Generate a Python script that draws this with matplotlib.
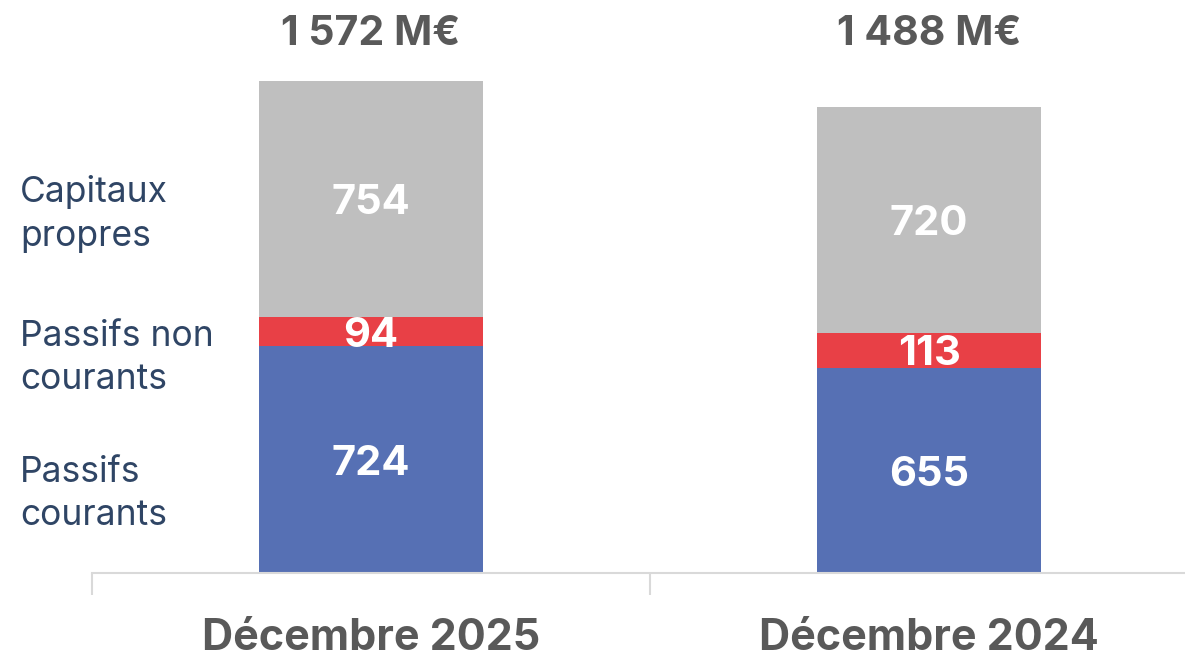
import matplotlib
matplotlib.use("Agg")
import matplotlib.pyplot as plt
import numpy as np

# données (M€)
periodes = ["Décembre 2025", "Décembre 2024"]
passifs_courants = [724, 655]
passifs_non_courants = [94, 113]
capitaux_propres = [754, 720]
totaux = ["1 572 M€", "1 488 M€"]
series_labels = ["Passifs\ncourants", "Passifs non\ncourants", "Capitaux\npropres"]

couleurs = ["#5670b4", "#e84046", "#bfbfbf"]
gris_txt = "#595959"
bleu_txt = "#2f4565"

plt.rcParams["font.family"] = ["Inter", "DejaVu Sans"]

W, H = 1185, 662
fig = plt.figure(figsize=(W / 100, H / 100), dpi=100)
# l'axe déborde à droite comme dans l'original
ax = fig.add_axes([92 / W, 1 - 573 / H, 1116 / W, 573 / H])

x = np.arange(len(periodes))
series = [passifs_courants, passifs_non_courants, capitaux_propres]
bottom = np.zeros(len(periodes))
for vals, c in zip(series, couleurs):
    vals = np.array(vals)
    ax.bar(x, vals, width=0.4, bottom=bottom, color=c, zorder=2)
    for xi, b, v in zip(x, bottom, vals):
        ax.annotate(str(v), (xi, b + v / 2), xytext=(0, -3), textcoords="offset points",
                    ha="center", va="center", color="white", fontsize=30,
                    fontweight="bold", zorder=3)
    bottom = bottom + vals

ax.set_xlim(-0.5, 1.5)
ax.set_ylim(0, 573 * 1572 / 492)

for s in ["top", "right", "left"]:
    ax.spines[s].set_visible(False)
ax.spines["bottom"].set_color("#d9d9d9")
ax.spines["bottom"].set_linewidth(1.5)
ax.set_yticks([])
ax.set_xticks([-0.5, 0.5, 1.5])
ax.set_xticklabels([])
ax.tick_params(axis="x", length=16, width=1.5, color="#d9d9d9", direction="out")

for xi, p in zip(x, periodes):
    fig.text((92 + 558 * (xi + 0.5)) / W, 1 - 639 / H, p, ha="center",
             va="center", fontsize=31, fontweight="bold", color=gris_txt)

for xi, t in zip(x, totaux):
    fig.text((92 + 558 * (xi + 0.5)) / W, 1 - 34 / H, t, ha="center", va="center",
             fontsize=29.5, fontweight="bold", color=gris_txt)

# libellés à gauche
for lab, yc in zip(series_labels, [494, 358, 214]):
    fig.text(20 / W, 1 - yc / H, lab, ha="left", va="center", fontsize=25.5,
             color=bleu_txt, linespacing=1.42)

fig.savefig("out.png", dpi=100)
